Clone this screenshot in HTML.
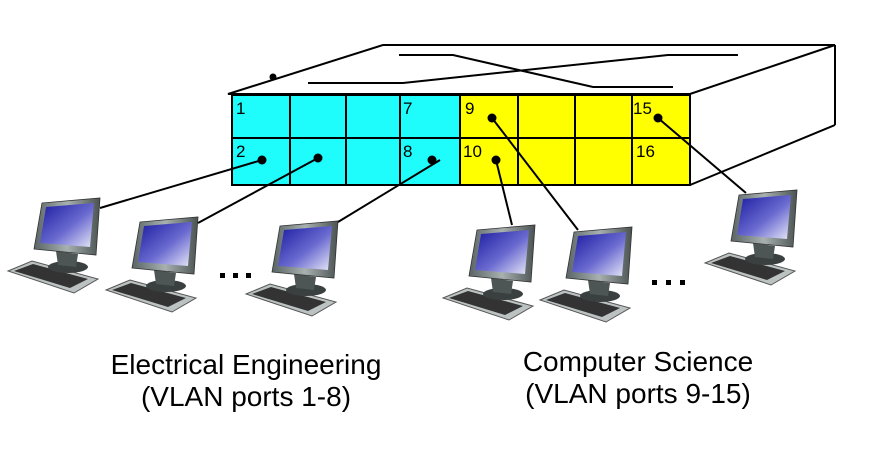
<!DOCTYPE html>
<html><head><style>body{margin:0;background:#fff}svg{display:block}</style></head><body>
<svg width="882" height="468" viewBox="0 0 882 468" xmlns="http://www.w3.org/2000/svg">
<defs>
<linearGradient id="scr" x1="0" y1="0" x2="1" y2="1"><stop offset="0" stop-color="#1a1aa0"/><stop offset="0.55" stop-color="#6a6ad0"/><stop offset="1" stop-color="#e8e8f8"/></linearGradient>
<linearGradient id="bez" x1="0" y1="0" x2="1" y2="0"><stop offset="0" stop-color="#5a6464"/><stop offset="0.5" stop-color="#a8b0b0"/><stop offset="1" stop-color="#4a5252"/></linearGradient>
<g id="pc">
<polygon points="0,74 24,64 90,82 66,96" fill="#bcc2c2" stroke="#555" stroke-width="1"/>
<polygon points="6,74 25,67 80,82 62,91" fill="#333"/>
<ellipse cx="60" cy="70" rx="20" ry="6" fill="#3a4040"/>
<polygon points="48,54 70,57 68,70 50,68" fill="#4d5555"/>
<polygon points="34,6 92,1 88,58 26,52" fill="url(#bez)" stroke="#333" stroke-width="0.8"/>
<polygon points="38,10 86,6 82,50 32,46" fill="url(#scr)"/>
</g>
</defs>
<g stroke="#000" stroke-width="2" fill="none">
<polygon points="228,94 383,45 835,45 690,94"/>
<line x1="835" y1="45" x2="835" y2="125"/>
<line x1="835" y1="125" x2="690" y2="185"/>
<polyline points="308,83 403,83 668,55 738,55"/>
<polyline points="399,55 453,55 593,87 673,87"/>
</g>
<circle cx="273" cy="77" r="3.5"/>
<rect x="232" y="95" width="228" height="90" fill="#1ffcfc"/>
<rect x="460" y="95" width="230" height="90" fill="#ffff00"/>
<g stroke="#000" stroke-width="2" fill="none">
<rect x="232" y="95" width="458" height="90"/>
<line x1="232" y1="138" x2="690" y2="138"/>
<line x1="290" y1="95" x2="290" y2="185"/><line x1="346" y1="95" x2="346" y2="185"/>
<line x1="400" y1="95" x2="400" y2="185"/><line x1="460" y1="95" x2="460" y2="185"/>
<line x1="518" y1="95" x2="518" y2="185"/><line x1="575" y1="95" x2="575" y2="185"/>
<line x1="632" y1="95" x2="632" y2="185"/>
</g>
<g font-family="Liberation Sans, sans-serif" font-size="17" fill="#000">
<text x="236" y="114">1</text><text x="403" y="114">7</text><text x="465" y="114">9</text><text x="633" y="114">15</text>
<text x="236" y="157">2</text><text x="403" y="157">8</text><text x="463" y="157">10</text><text x="636" y="157">16</text>
</g>
<use href="#pc" x="8" y="197"/>
<use href="#pc" x="106" y="216"/>
<use href="#pc" x="246" y="220"/>
<use href="#pc" x="443" y="224"/>
<use href="#pc" x="540" y="226"/>
<use href="#pc" x="705" y="189"/>
<g stroke="#000" stroke-width="2">
<line x1="262" y1="160" x2="100" y2="208"/>
<line x1="318" y1="158" x2="198" y2="223"/>
<line x1="440" y1="160" x2="338" y2="222"/>
<line x1="496" y1="160" x2="512" y2="225"/>
<line x1="492" y1="118" x2="578" y2="230"/>
<line x1="658" y1="118" x2="746" y2="193"/>
</g>
<g fill="#000">
<circle cx="262" cy="160" r="4.5"/><circle cx="318" cy="158" r="4.5"/><circle cx="432" cy="160" r="4.5"/>
<circle cx="492" cy="118" r="4.5"/><circle cx="496" cy="160" r="4.5"/><circle cx="658" cy="118" r="4.5"/>
<rect x="220" y="273" width="5" height="5"/><rect x="233" y="273" width="5" height="5"/><rect x="246" y="273" width="5" height="5"/>
<rect x="652" y="280" width="5" height="5"/><rect x="666" y="280" width="5" height="5"/><rect x="680" y="280" width="5" height="5"/>
</g>
<g font-family="Liberation Sans, sans-serif" font-size="28" fill="#000" text-anchor="middle">
<text x="246" y="374">Electrical Engineering</text>
<text x="246" y="406">(VLAN ports 1-8)</text>
<text x="638" y="371">Computer Science</text>
<text x="638" y="403">(VLAN ports 9-15)</text>
</g>
</svg>
</body></html>
